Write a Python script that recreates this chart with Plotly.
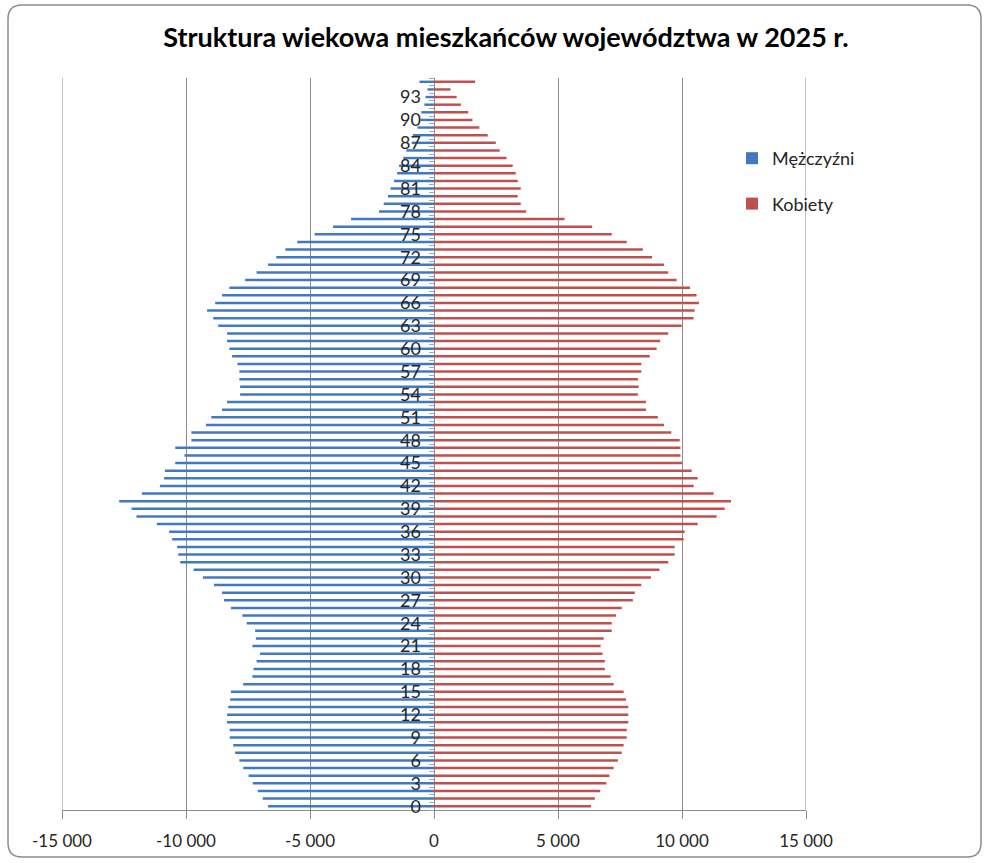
import plotly.graph_objects as go

# Age groups 0..95 and population counts by sex (2025 projection)
ages = list(range(96))

men = [
    6687, 6904, 7105, 7307, 7477, 7694, 7848, 8019, 8096, 8235,
    8235, 8344, 8344, 8297, 8220, 8189, 7694, 7322, 7276, 7152,
    7012, 7322, 7183, 7214, 7554, 7725, 8189, 8468, 8545, 8870,
    9319, 9690, 10232, 10310, 10356, 10557, 10681, 11177, 11997, 12198,
    12694, 11780, 11053, 10882, 10851, 10434, 10062, 10434, 9783, 9783,
    9195, 8978, 8545, 8344, 7817, 7817, 7848, 7848, 7926, 8142,
    8251, 8344, 8344, 8700, 8901, 9149, 8824, 8545, 8251, 7616,
    7152, 6687, 6362, 5991, 5511, 4814, 4071, 3344, 2214, 2028,
    1858, 1749, 1610, 1486, 1409, 1238, 1115, 898, 851, 666,
    542, 511, 387, 340, 263, 588,
]

women = [
    6331, 6486, 6703, 6950, 7074, 7245, 7415, 7570, 7647, 7771,
    7771, 7833, 7833, 7833, 7740, 7647, 7245, 7121, 6889, 6889,
    6796, 6718, 6842, 7167, 7167, 7338, 7570, 8019, 8096, 8359,
    8746, 9087, 9443, 9706, 9706, 10067, 10107, 10632, 11397, 11720,
    11975, 11277, 10470, 10632, 10390, 10000, 9938, 9938, 9907, 9567,
    9273, 9025, 8545, 8545, 8220, 8251, 8220, 8359, 8359, 8700,
    8978, 9118, 9443, 9985, 10464, 10511, 10681, 10588, 10325, 9783,
    9443, 9273, 8793, 8421, 7771, 7167, 6378, 5263, 3715, 3498,
    3375, 3498, 3375, 3297, 3173, 2926, 2647, 2492, 2167, 1827,
    1548, 1378, 1084, 913, 666, 1656,
]

series_names = ["Mężczyźni", "Kobiety"]
age_ticks = list(range(0, 96, 3))
x_ticks = [-15000, -10000, -5000, 0, 5000, 10000, 15000]
x_tick_labels = ["-15 000", "-10 000", "-5 000", "0", "5 000", "10 000", "15 000"]
title_text = "Struktura wiekowa mieszkańców województwa w 2025 r."

FONT = "Lato, Calibri, Carlito, 'DejaVu Sans', sans-serif"
BLUE = "#4179C0"
RED = "#C0504D"
GRID = "#8C8C8C"

W, H = 984, 863
ML, MR, MT, MB = 62, 178, 78, 53
PW, PH = W - ML - MR, H - MT - MB

fig = go.Figure()
fig.add_trace(go.Bar(
    y=ages, x=[-v for v in men], customdata=men, orientation="h",
    name=series_names[0], marker=dict(color=BLUE, line=dict(width=0)),
    width=0.32, legendgroup="m",
    hovertemplate="Wiek %{y}: %{customdata}<extra>" + series_names[0] + "</extra>",
))
fig.add_trace(go.Bar(
    y=ages, x=women, orientation="h",
    name=series_names[1], marker=dict(color=RED, line=dict(width=0)),
    width=0.32, legendgroup="k",
    hovertemplate="Wiek %{y}: %{x}<extra>" + series_names[1] + "</extra>",
))


def px_x(p):
    return (p - ML) / PW


def px_y(p):
    return (H - MB - p) / PH


# rounded frame around the whole chart area
x0, x1 = px_x(8), px_x(981)
y0, y1 = px_y(857), px_y(5)
rx, ry = 14 / PW, 14 / PH
frame = (
    f"M {x0+rx},{y1} L {x1-rx},{y1} Q {x1},{y1} {x1},{y1-ry} "
    f"L {x1},{y0+ry} Q {x1},{y0} {x1-rx},{y0} "
    f"L {x0+rx},{y0} Q {x0},{y0} {x0},{y0+ry} "
    f"L {x0},{y1-ry} Q {x0},{y1} {x0+rx},{y1} Z"
)

shapes = [dict(type="path", path=frame, xref="paper", yref="paper",
               line=dict(color="#8C8C8C", width=1.5), layer="above")]
# gridlines at both ends of the value axis
for xv in (x_ticks[0], x_ticks[-1]):
    shapes.append(dict(type="line", xref="x", yref="paper", x0=xv, x1=xv,
                       y0=0, y1=1, line=dict(color=GRID, width=1), layer="below"))

fig.update_layout(
    width=W, height=H,
    margin=dict(l=ML, r=MR, t=MT, b=MB),
    paper_bgcolor="white", plot_bgcolor="white",
    barmode="overlay",
    font=dict(family=FONT, color="#262626"),
    title=dict(
        text=f"<b>{title_text}</b>",
        x=506 / W, xanchor="center", xref="container",
        y=1 - 38 / H, yanchor="middle", yref="container",
        font=dict(size=27, color="#000000", family=FONT),
    ),
    legend=dict(
        x=px_x(732), xanchor="left", y=px_y(140), yanchor="top",
        font=dict(size=18, color="#262626"),
        itemwidth=30,
        tracegroupgap=19, bgcolor="rgba(0,0,0,0)",
    ),
    xaxis=dict(
        range=[-15000, 15000],
        tickvals=x_ticks, ticktext=x_tick_labels,
        showgrid=True, gridcolor=GRID, gridwidth=1,
        zeroline=True, zerolinecolor=GRID, zerolinewidth=1,
        showline=True, linecolor=GRID, linewidth=1,
        ticks="outside", ticklen=8, tickcolor=GRID,
        tickfont=dict(size=17, color="#262626"),
        ticklabelstandoff=8,
        fixedrange=True,
    ),
    yaxis=dict(
        range=[-0.5, 95.5],
        tickvals=age_ticks,
        ticks="", showgrid=False, zeroline=False, showline=False,
        anchor="free", position=0.5,
        tickfont=dict(size=18, color="#262626"),
        ticklabelstandoff=13,
        minor=dict(tick0=-0.5, dtick=1, ticks="outside", ticklen=5,
                   tickcolor="#A6A6A6", showgrid=False),
        fixedrange=True,
    ),
    shapes=shapes,
)

fig.write_html("out.html")
